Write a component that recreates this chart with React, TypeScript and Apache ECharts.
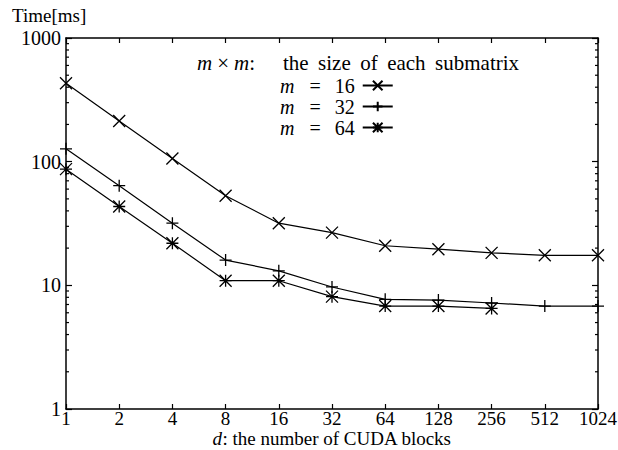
import React, { useEffect, useRef } from 'react';
import * as echarts from 'echarts';

const blocks = ['1', '2', '4', '8', '16', '32', '64', '128', '256', '512', '1024'];
const timeM16 = [430, 213, 106, 53, 31.8, 26.7, 20.9, 19.6, 18.3, 17.5, 17.5];
const timeM32 = [127, 64, 31.8, 16.0, 13.1, 9.7, 7.7, 7.6, 7.2, 6.8, 6.8];
const timeM64 = [87, 43.4, 21.9, 10.9, 10.9, 8.1, 6.8, 6.8, 6.5, null, null];
const seriesNames = ['m = 16', 'm = 32', 'm = 64'];
const yMajorTicks = [1, 10, 100, 1000];
const yMinorTicks = [2, 3, 4, 5, 6, 7, 8, 9, 20, 30, 40, 50, 60, 70, 80, 90, 200, 300, 400, 500, 600, 700, 800, 900];

const FONT = 'Liberation Serif';
const FS = 19;
const LFS = 20;

const SYM_CROSS = 'path://M0,0L10,10M10,0L0,10';
const SYM_PLUS = 'path://M5,0L5,10M0,5L10,5';
const SYM_STAR = 'path://M0,0L10,10M10,0L0,10M5,0L5,10M0,5L10,5';

function lineSeries(name: string, data: (number | null)[], symbol: string) {
  return {
    type: 'line',
    name,
    data,
    symbol,
    symbolSize: 12,
    showSymbol: true,
    connectNulls: false,
    lineStyle: { color: '#000', width: 1.2 },
    itemStyle: { color: '#000', borderColor: '#000', borderWidth: 1.3 },
    z: 5,
  };
}

const legendRich = {
  i: { fontStyle: 'italic', fontFamily: FONT, fontSize: LFS, color: '#000' },
  e: { fontFamily: FONT, fontSize: LFS, color: '#000', padding: [0, 14, 0, 15] },
};

export default function App() {
  const ref = useRef<HTMLDivElement>(null);
  useEffect(() => {
    const chart = echarts.init(ref.current!, null, { renderer: 'svg' });
    const axisLine = { show: true, lineStyle: { color: '#000', width: 1.5 } };
    const option: any = {
      animation: false,
      backgroundColor: '#fff',
      textStyle: { fontFamily: FONT, color: '#000' },
      grid: { left: 66, right: 20, top: 38, bottom: 41, containLabel: false, outerBoundsMode: 'none' },
      xAxis: [
        {
          type: 'category',
          data: blocks,
          boundaryGap: false,
          position: 'bottom',
          axisLine,
          axisTick: { show: true, inside: true, length: 5, lineStyle: { color: '#000', width: 1.2 } },
          axisLabel: { color: '#000', fontFamily: FONT, fontSize: FS, margin: 0 },
          splitLine: { show: false },
          name: '{i|d}: the number of CUDA blocks',
          nameLocation: 'middle',
          nameGap: 20,
          nameMoveOverlap: false,
          nameTextStyle: {
            color: '#000',
            fontFamily: FONT,
            fontSize: FS,
            lineHeight: 19,
            rich: { i: { fontStyle: 'italic', fontFamily: FONT, fontSize: FS, lineHeight: 19, color: '#000' } },
          },
        },
        {
          type: 'category',
          data: blocks,
          boundaryGap: false,
          position: 'top',
          axisLine,
          axisTick: { show: true, inside: true, length: 5, lineStyle: { color: '#000', width: 1.2 } },
          axisLabel: { show: false },
          splitLine: { show: false },
        },
      ],
      yAxis: [
        {
          type: 'log',
          logBase: 10,
          min: 1,
          max: 1000,
          position: 'left',
          axisLine,
          axisTick: { show: true, inside: true, length: 6, lineStyle: { color: '#000', width: 1.2 } },
          axisLabel: {
            color: '#000',
            fontFamily: FONT,
            fontSize: 20,
            margin: 5,
            formatter: (v: number) => (yMajorTicks.includes(Math.round(v)) ? String(Math.round(v)) : ''),
          },
          splitLine: { show: false },
        },
        {
          type: 'log',
          logBase: 10,
          min: 1,
          max: 1000,
          position: 'right',
          axisLine,
          axisTick: { show: true, inside: true, length: 6, lineStyle: { color: '#000', width: 1.2 } },
          axisLabel: { show: false },
          splitLine: { show: false },
        },
      ],
      legend: {
        data: seriesNames,
        orient: 'vertical',
        align: 'right',
        left: 275,
        top: 70,
        itemWidth: 30,
        itemHeight: 12,
        itemGap: 0,
        selectedMode: false,
        textStyle: {
          color: '#000',
          fontFamily: FONT,
          fontSize: LFS,
          lineHeight: 21,
          padding: [0, 3, 0, 0],
          rich: legendRich,
        },
        formatter: (name: string) => '{i|m}{e|=}' + name.split('= ')[1],
      },
      graphic: [
        {
          type: 'text',
          left: 12,
          top: 6,
          style: { text: 'Time[ms]', fontFamily: FONT, fontSize: FS, fill: '#000' },
        },
        {
          type: 'text',
          left: 197,
          top: 52,
          style: {
            text: '{i|m}{e|×}{i|m}{c|:}the \u2009size \u2009of \u2009each \u2009submatrix',
            fontFamily: FONT,
            fontSize: 21,
            fill: '#000',
            rich: {
              i: { fontStyle: 'italic', fontFamily: FONT, fontSize: 21, fill: '#000' },
              e: { fontFamily: FONT, fontSize: 21, fill: '#000', padding: [0, 5, 0, 5] },
              c: { fontFamily: FONT, fontSize: 21, fill: '#000', padding: [0, 28, 0, 0] },
            },
          },
        },
      ],
      series: [
        lineSeries(seriesNames[0], timeM16, SYM_CROSS),
        lineSeries(seriesNames[1], timeM32, SYM_PLUS),
        lineSeries(seriesNames[2], timeM64, SYM_STAR),
        {
          type: 'custom',
          silent: true,
          xAxisIndex: 0,
          yAxisIndex: 0,
          data: yMinorTicks.map((v) => [0, v]),
          encode: { x: 0, y: 1 },
          renderItem: (params: any, api: any) => {
            const cs = params.coordSys;
            const y = api.coord([0, api.value(1)])[1];
            const st = { stroke: '#000', lineWidth: 1.2 };
            return {
              type: 'group',
              children: [
                { type: 'line', shape: { x1: cs.x, y1: y, x2: cs.x + 3, y2: y }, style: st },
                { type: 'line', shape: { x1: cs.x + cs.width - 3, y1: y, x2: cs.x + cs.width, y2: y }, style: st },
              ],
            };
          },
          z: 3,
        },
      ],
    };
    chart.setOption(option);
    return () => chart.dispose();
  }, []);
  return (
    <div
      ref={ref}
      style={{ position: 'absolute', left: 0, top: 0, width: 618, height: 450, background: '#fff' }}
    />
  );
}
